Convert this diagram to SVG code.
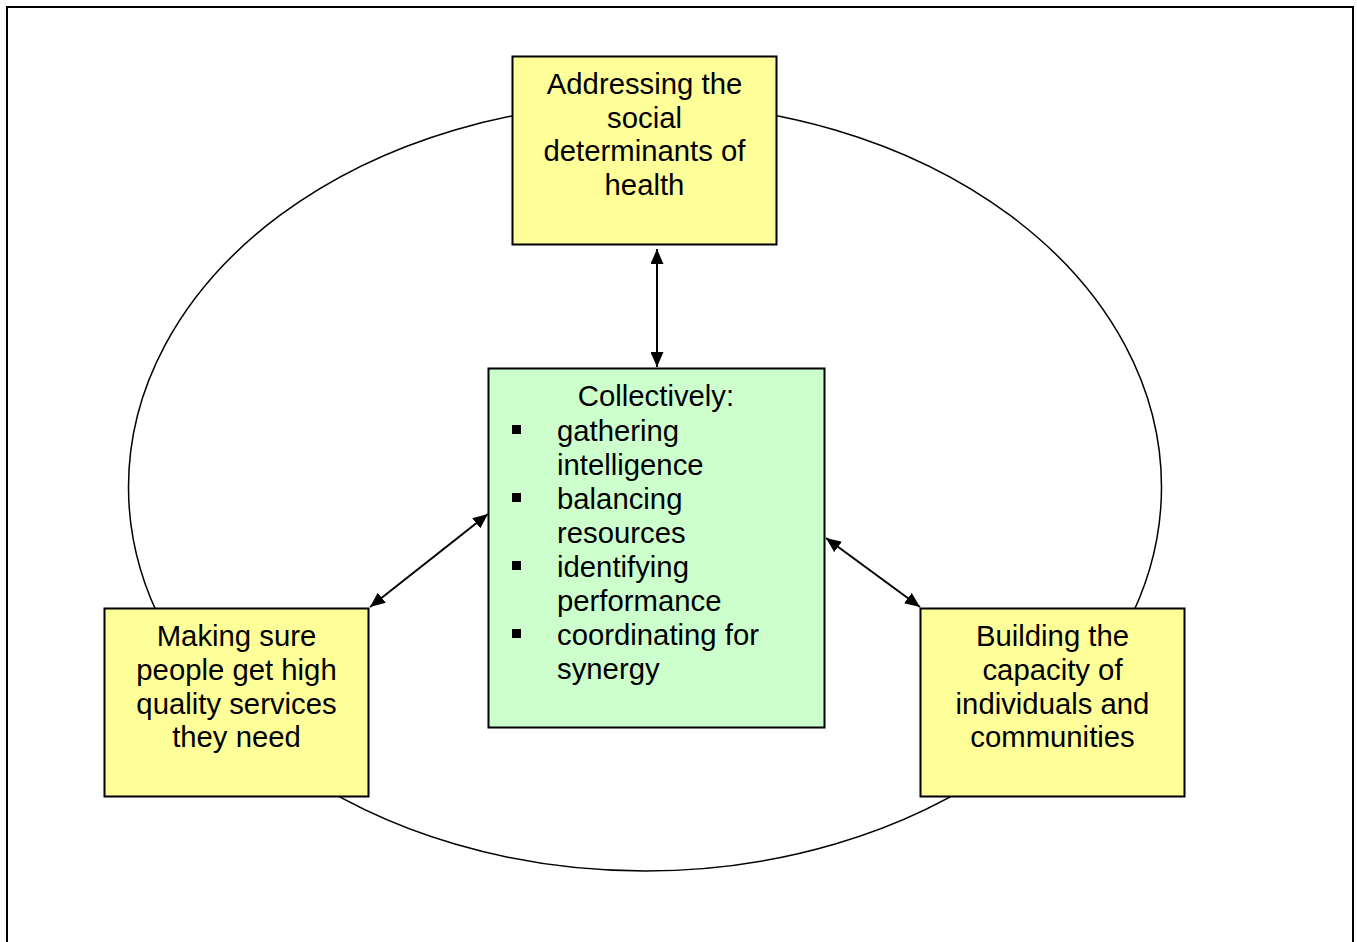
<svg xmlns="http://www.w3.org/2000/svg" width="1357" height="942" viewBox="0 0 1357 942">
<style>
.box{stroke:#000;stroke-width:2}
.y{fill:#ffff99}
.g{fill:#ccffcc}
text{font-family:"Liberation Sans",Arial,sans-serif;font-size:29.3px;fill:#000}
.c{text-anchor:middle}
.conn{stroke:#000;stroke-width:2;fill:none;marker-start:url(#ah);marker-end:url(#ah)}
</style>
<defs>
<marker id="ah" viewBox="0 0 15 13" refX="15" refY="6.5" markerWidth="15" markerHeight="13" markerUnits="userSpaceOnUse" orient="auto-start-reverse">
<path d="M0,0 L15,6.5 L0,13 Z" fill="#000"/>
</marker>
</defs>
<rect x="0" y="0" width="1357" height="942" fill="#fff"/>
<rect id="frame" x="7" y="7" width="1346" height="1000" fill="none" stroke="#000" stroke-width="2"/>
<ellipse id="ring" cx="645" cy="487" rx="516.5" ry="384" fill="none" stroke="#000" stroke-width="1.5"/>
<g id="connectors">
<line class="conn" x1="657" y1="249" x2="657" y2="367"/>
<line class="conn" x1="488" y1="514" x2="370" y2="607"/>
<line class="conn" x1="826" y1="538" x2="920" y2="607"/>
</g>
<g id="top">
<rect class="box y" x="512.5" y="56.5" width="264" height="188"/>
<text class="c" x="644.5" y="94">Addressing the</text>
<text class="c" x="644.5" y="128">social</text>
<text class="c" x="644.5" y="161">determinants of</text>
<text class="c" x="644.5" y="195">health</text>
</g>
<g id="center">
<rect class="box g" x="488.5" y="368.5" width="336" height="359"/>
<text class="c" x="656" y="406">Collectively:</text>
<rect x="512" y="425" width="9" height="9"/>
<rect x="512" y="493" width="9" height="9"/>
<rect x="512" y="561" width="9" height="9"/>
<rect x="512" y="629" width="9" height="9"/>
<text x="557" y="441">gathering</text>
<text x="557" y="475">intelligence</text>
<text x="557" y="509">balancing</text>
<text x="557" y="543">resources</text>
<text x="557" y="577">identifying</text>
<text x="557" y="611">performance</text>
<text x="557" y="645">coordinating for</text>
<text x="557" y="679">synergy</text>
</g>
<g id="left">
<rect class="box y" x="104.5" y="608.5" width="264" height="188"/>
<text class="c" x="236.5" y="646">Making sure</text>
<text class="c" x="236.5" y="680">people get high</text>
<text class="c" x="236.5" y="714">quality services</text>
<text class="c" x="236.5" y="747">they need</text>
</g>
<g id="right">
<rect class="box y" x="920.5" y="608.5" width="264" height="188"/>
<text class="c" x="1052.5" y="646">Building the</text>
<text class="c" x="1052.5" y="680">capacity of</text>
<text class="c" x="1052.5" y="714">individuals and</text>
<text class="c" x="1052.5" y="747">communities</text>
</g>
</svg>
